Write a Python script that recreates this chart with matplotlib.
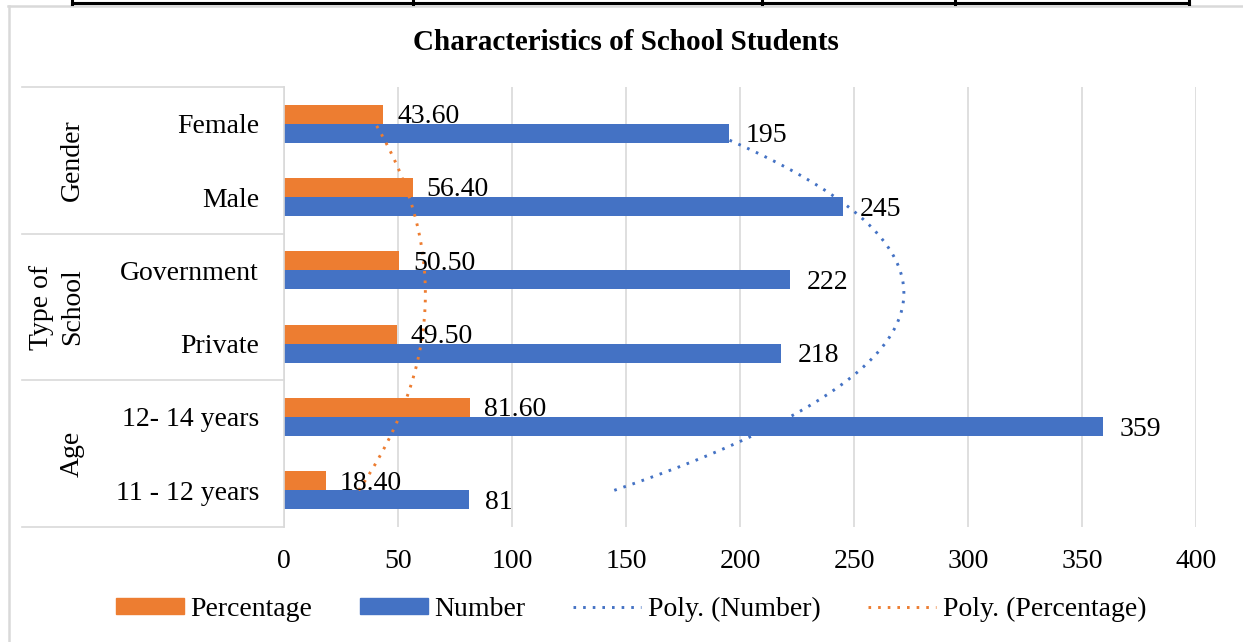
import numpy as np
import matplotlib.pyplot as plt
from matplotlib.lines import Line2D
from matplotlib.patches import Patch
from matplotlib.transforms import blended_transform_factory

plt.rcParams['font.family'] = ['Liberation Serif', 'DejaVu Serif']

# Data (Excel order: first category is at the bottom)
categories = ["11 - 12 years", "12- 14 years", "Private", "Government", "Male", "Female"]
groups = ["Age", "Type of\nSchool", "Gender"]
group_size = [2, 2, 2]
percentage = [18.40, 81.60, 49.50, 50.50, 56.40, 43.60]
number = [81, 359, 218, 222, 245, 195]
x_ticks = [0, 50, 100, 150, 200, 250, 300, 350, 400]

orange = '#ED7D31'
blue = '#4472C4'
grid_c = '#D9D9D9'
fs = 20

W, H = 1243, 642
fig = plt.figure(figsize=(W / 100, H / 100), dpi=100)
ax = fig.add_axes([284 / W, 1 - 527 / H, (1196 - 284) / W, (527 - 87) / H])

pos = np.arange(1, len(categories) + 1)
bh = 0.26
ax.barh(pos + bh / 2, percentage, height=bh, color=orange, zorder=2)
ax.barh(pos - bh / 2, number, height=bh, color=blue, zorder=2)

# polynomial (order 2) trendlines, as Excel draws them
ys = np.linspace(1, len(categories), 200)
cn = np.polyfit(pos, number, 2)
cp = np.polyfit(pos, percentage, 2)
dots = (0, (0.9, 2.4))
ax.plot(np.polyval(cn, ys), ys, color=blue, lw=2.1, linestyle=dots, zorder=3)
ax.plot(np.polyval(cp, ys), ys, color=orange, lw=2.1, linestyle=dots, zorder=3)

# data labels
for p, v in zip(pos, percentage):
    ax.annotate(f"{v:.2f}", (v, p + bh / 2), xytext=(10, -6.5), textcoords='offset points',
                va='baseline', ha='left', fontsize=fs, zorder=4)
for p, v in zip(pos, number):
    ax.annotate(f"{v}", (v, p - bh / 2), xytext=(12, -6.5), textcoords='offset points',
                va='baseline', ha='left', fontsize=fs, zorder=4)

ax.set_xlim(0, 400)
ax.set_ylim(0.5, len(categories) + 0.5)
ax.set_xticks(x_ticks)
ax.set_xticklabels([str(t) for t in x_ticks], fontsize=fs)
ax.set_yticks(pos)
ax.set_yticklabels(categories, fontsize=fs)
ax.tick_params(axis='both', length=0)
ax.tick_params(axis='x', pad=16)
ax.tick_params(axis='y', pad=18)
ax.grid(axis='x', color=grid_c, lw=1.2, zorder=0)
ax.set_axisbelow(True)
for s in ['top', 'right', 'bottom']:
    ax.spines[s].set_visible(False)
ax.spines['left'].set_color(grid_c)
ax.spines['left'].set_linewidth(1.2)

# group table on the left
tr = blended_transform_factory(fig.transFigure, ax.transData)
bounds = np.concatenate([[0], np.cumsum(group_size)]) + 0.5
for b in bounds:
    fig.add_artist(Line2D([22 / W, 284 / W], [b, b], transform=tr, color=grid_c, lw=1.2))
group_x = [72, 57, 72]
for g, lo, hi, gx in zip(groups, bounds[:-1], bounds[1:], group_x):
    fig.text(gx / W, (lo + hi) / 2, g, transform=tr, rotation=90, ha='center', va='center',
             fontsize=fs, multialignment='center', linespacing=1.35)

# title
fig.text(626 / W, 1 - 43 / H, "Characteristics of School Students", ha='center', va='center',
         fontsize=21, fontweight='bold')

# legend
handles = [Patch(color=orange), Patch(color=blue),
           Line2D([], [], color=blue, lw=2.1, linestyle=dots),
           Line2D([], [], color=orange, lw=2.1, linestyle=dots)]
labels = ["Percentage", "Number", "Poly. (Number)", "Poly. (Percentage)"]
fig.legend(handles, labels, loc='center', bbox_to_anchor=(631 / W, 1 - 609 / H), ncol=4,
           frameon=False, fontsize=fs, handlelength=2.45, handleheight=0.5,
           handletextpad=0.25, columnspacing=1.7)

# chart area border and table lines above it
fig.add_artist(Line2D([9 / W, 9 / W], [0, 1 - 6 / H], color=grid_c, lw=1.8))
fig.add_artist(Line2D([8 / W, 1], [1 - 6 / H, 1 - 6 / H], color=grid_c, lw=1.8))
fig.add_artist(Line2D([72 / W, 1189 / W], [1 - 3 / H, 1 - 3 / H], color='black', lw=2.2))
for vx in [72, 413, 762, 955, 1189]:
    fig.add_artist(Line2D([vx / W, vx / W], [1 - 4 / H, 1], color='black', lw=2.2))

fig.savefig('out.png', dpi=100)
